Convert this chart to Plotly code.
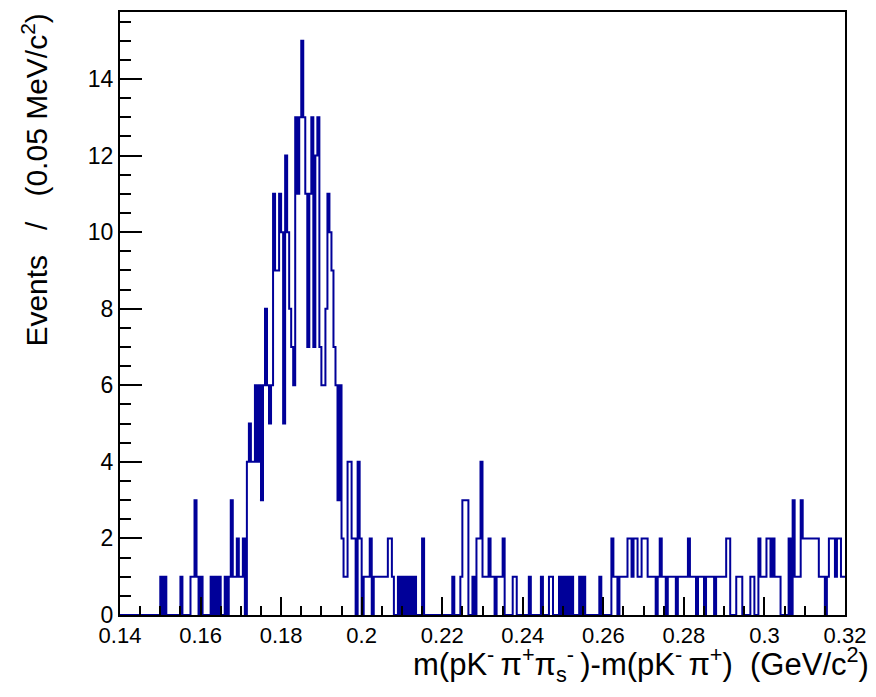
import plotly.graph_objects as go
import numpy as np

# Histogram binning (GeV/c^2)
x_min = 0.14
x_max = 0.32
bin_width = 0.0005

# Entries per bin, one line per 0.01 GeV/c^2
counts = [
    0, 0, 0, 0, 0, 0, 0, 0, 0, 0, 0, 0, 0, 0, 0, 0, 0, 0, 0, 0,
    1, 0, 1, 0, 0, 0, 0, 0, 0, 0, 1, 0, 0, 0, 0, 1, 1, 3, 1, 0,
    1, 0, 0, 0, 0, 1, 0, 1, 0, 1, 0, 0, 1, 0, 1, 3, 1, 1, 2, 1,
    1, 2, 0, 4, 5, 4, 4, 6, 4, 6, 3, 6, 8, 6, 5, 6, 11, 9, 9, 11,
    10, 5, 12, 10, 8, 7, 6, 13, 11, 13, 15, 13, 11, 7, 11, 13, 7, 12, 13, 7,
    6, 6, 8, 11, 10, 9, 7, 6, 3, 6, 2, 1, 1, 4, 4, 2, 2, 0, 4, 2,
    0, 1, 1, 1, 2, 0, 1, 1, 1, 1, 1, 1, 1, 2, 2, 1, 0, 0, 1, 0,
    1, 0, 1, 0, 1, 0, 1, 0, 0, 0, 2, 0, 0, 0, 0, 0, 0, 0, 0, 0,
    0, 0, 0, 0, 0, 1, 0, 0, 0, 1, 3, 3, 3, 0, 0, 1, 0, 2, 2, 4,
    1, 1, 1, 2, 1, 1, 0, 1, 1, 1, 2, 0, 0, 0, 0, 1, 1, 0, 0, 0,
    0, 0, 0, 1, 0, 0, 0, 0, 0, 1, 0, 0, 0, 1, 1, 0, 0, 0, 1, 0,
    1, 0, 1, 0, 1, 0, 0, 0, 1, 0, 1, 0, 0, 0, 0, 0, 0, 0, 1, 0,
    0, 0, 0, 0, 2, 1, 1, 0, 1, 1, 1, 1, 2, 2, 1, 2, 2, 1, 1, 2,
    2, 2, 1, 1, 1, 1, 0, 1, 2, 1, 1, 0, 1, 1, 1, 1, 0, 1, 1, 1,
    1, 1, 2, 1, 1, 1, 0, 1, 1, 1, 0, 1, 1, 1, 1, 0, 1, 1, 1, 1,
    1, 2, 2, 0, 0, 0, 1, 1, 1, 0, 0, 0, 0, 1, 1, 0, 0, 2, 1, 1,
    1, 2, 2, 1, 2, 1, 1, 1, 0, 0, 0, 0, 2, 0, 3, 1, 1, 1, 3, 2,
    2, 2, 2, 2, 2, 2, 2, 1, 1, 1, 0, 1, 2, 2, 2, 1, 2, 2, 1, 1,
]

nb = "\u00a0"
th = "\u2009"
x_title = ("m(pK<sup>-</sup>" + th + "\u03c0<sup>+</sup>"
           + "\u03c0<sub>s</sub><sup>-</sup>" + th + ")"
           + "-m(pK<sup>-</sup>" + th + "\u03c0<sup>+</sup>)" + nb
           + " (GeV/c<sup>2</sup>)")
y_title = "Events" + nb * 3 + "/" + nb * 3 + "(0.05 MeV/c<sup>2</sup>)"

n_bins = len(counts)
edges = x_min + bin_width * np.arange(n_bins + 1)
y_steps = list(counts) + [counts[-1]]

W, H = 876, 697
L, R, T, B = 120, 30, 10, 82
plot_w = W - L - R
plot_h = H - T - B

font_family = "Liberation Sans, Arial, Helvetica, sans-serif"

fig = go.Figure()
fig.add_trace(go.Scatter(
    x=edges,
    y=y_steps,
    mode="lines",
    line=dict(color="#000099", width=2, shape="hv"),
    hoverinfo="skip",
    showlegend=False,
))

y_max = 1.05 * max(counts)

fig.update_layout(
    width=W,
    height=H,
    margin=dict(l=L, r=R, t=T, b=B, pad=0),
    paper_bgcolor="white",
    plot_bgcolor="white",
    font=dict(family=font_family, size=22, color="black"),
    xaxis=dict(
        range=[x_min, x_max],
        showgrid=False,
        zeroline=False,
        showline=True,
        linecolor="black",
        linewidth=2,
        mirror=True,
        ticks="inside",
        ticklen=18,
        tickwidth=2,
        tickcolor="black",
        tickmode="linear",
        tick0=x_min,
        dtick=0.02,
        tickformat="~g",
        tickfont=dict(family=font_family, size=22, color="black"),
        minor=dict(ticks="inside", ticklen=9, tickwidth=2, tickcolor="black",
                   tick0=x_min, dtick=0.005, showgrid=False),
    ),
    yaxis=dict(
        range=[0, y_max],
        showgrid=False,
        zeroline=False,
        showline=True,
        linecolor="black",
        linewidth=2,
        mirror=True,
        ticks="inside",
        ticklen=22,
        tickwidth=2,
        tickcolor="black",
        tickmode="linear",
        tick0=2,
        dtick=2,
        tickfont=dict(family=font_family, size=23, color="black"),
        minor=dict(ticks="inside", ticklen=11, tickwidth=2, tickcolor="black",
                   tick0=0, dtick=0.5, showgrid=False),
    ),
    annotations=[
        dict(
            text=x_title,
            xref="paper", yref="paper",
            x=(872 - L) / plot_w, y=-(640 - (T + plot_h)) / plot_h,
            xanchor="right", yanchor="top",
            showarrow=False,
            font=dict(family=font_family, size=31, color="black"),
        ),
        dict(
            text=y_title,
            xref="paper", yref="paper",
            x=(34 - L) / plot_w, y=1.0,
            xanchor="center", yanchor="top",
            textangle=-90,
            showarrow=False,
            font=dict(family=font_family, size=30, color="black"),
        ),
    ],
)

fig.write_html("out.html")
